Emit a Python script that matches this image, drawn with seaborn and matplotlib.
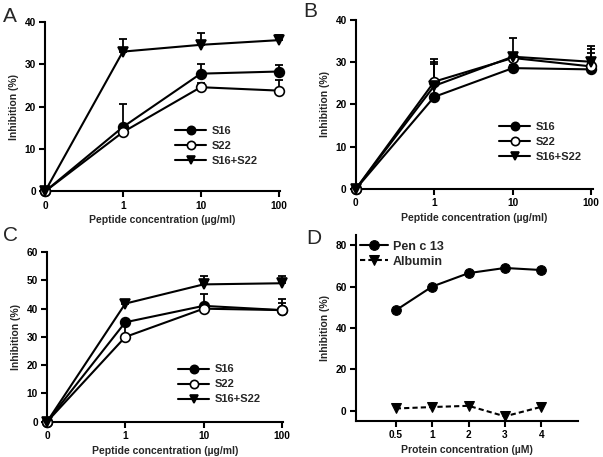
import numpy as np
import matplotlib
matplotlib.use("Agg")
import matplotlib.pyplot as plt
import seaborn as sns

# data
peptide_labels = ["0", "1", "10", "100"]
series_names = ["S16", "S22", "S16+S22"]

a_s16 = [0, 15.2, 27.8, 28.3]
a_s16_err = [0, 5.5, 2.2, 1.6]
a_s22 = [0, 14.0, 24.6, 23.8]
a_s22_err = [0, 0, 1.1, 2.6]
a_mix = [0, 33.0, 34.6, 35.7]
a_mix_err = [0, 3.0, 2.9, 1.3]

b_s16 = [0, 21.8, 28.6, 28.3]
b_s16_err = [0, 7.8, 0.8, 3.8]
b_s22 = [0, 25.4, 31.0, 29.0]
b_s22_err = [0, 5.3, 1.0, 4.1]
b_mix = [0, 24.4, 31.3, 30.1]
b_mix_err = [0, 5.6, 4.5, 3.7]

c_s16 = [0, 35.2, 41.0, 39.5]
c_s16_err = [0, 0, 4.3, 3.8]
c_s22 = [0, 30.0, 40.0, 39.5]
c_s22_err = [0, 5.0, 1.0, 2.5]
c_mix = [0, 41.8, 48.6, 49.0]
c_mix_err = [0, 1.0, 3.0, 2.5]

protein_labels = ["0.5", "1", "2", "3", "4"]
pen_c13 = [48.5, 60.0, 66.5, 69.0, 68.0]
albumin = [1.0, 1.7, 2.3, -2.8, 1.8]

sns.set_theme(style="ticks")
plt.rcParams["font.family"] = ["Liberation Sans", "DejaVu Sans"]
plt.rcParams["font.weight"] = "bold"

fig = plt.figure(figsize=(6.03, 4.57), dpi=100)

LW = 1.5
markers = ["o", "o", "v"]
faces = ["black", "white", "black"]


def style_axis(ax, xlabel, ylabel):
    sns.despine(ax=ax)
    for s in ["left", "bottom"]:
        ax.spines[s].set_linewidth(LW)
        ax.spines[s].set_color("black")
    ax.tick_params(direction="out", length=4, width=LW, labelsize=7.3,
                   colors="black", pad=2.5)
    for lab in ax.get_xticklabels() + ax.get_yticklabels():
        lab.set_fontweight("bold")
    ax.set_xlabel(xlabel, fontsize=7.5, fontweight="bold", labelpad=3.5)
    ax.set_ylabel(ylabel, fontsize=7.5, fontweight="bold", labelpad=4)


def peptide_panel(rect, vals, errs, ymax, step, leg_anchor):
    ax = fig.add_axes(rect)
    xs = np.arange(len(peptide_labels))
    for name, v, e, m, fc in zip(series_names, vals, errs, markers, faces):
        ax.errorbar(xs, v, yerr=[np.zeros(len(e)), e], fmt="none",
                    ecolor="black", elinewidth=1.3, capsize=3, capthick=1.3,
                    clip_on=False, zorder=2)
        sns.lineplot(x=xs, y=v, ax=ax, color="black", linewidth=LW,
                     marker=m, markersize=7, markerfacecolor=fc,
                     markeredgecolor="black", markeredgewidth=1.2,
                     label=name, clip_on=False, zorder=3)
    ax.set_xlim(0, 3.02)
    ax.set_ylim(0, ymax)
    ax.set_xticks(xs)
    ax.set_xticklabels(peptide_labels)
    ax.set_yticks(np.arange(0, ymax + 0.1, step))
    ax.legend(loc="center", bbox_to_anchor=leg_anchor, frameon=False,
              handlelength=2.8, handletextpad=0.5, markerscale=0.85,
              labelspacing=0.45, prop={"weight": "bold", "size": 8})
    style_axis(ax, "Peptide concentration (\u00b5g/ml)", "Inhibition (%)")
    return ax


peptide_panel([0.0746, 0.581, 0.390, 0.371],
              [a_s16, a_s22, a_mix], [a_s16_err, a_s22_err, a_mix_err],
              40, 10, (0.73, 0.27))
peptide_panel([0.590, 0.5864, 0.393, 0.370],
              [b_s16, b_s22, b_mix], [b_s16_err, b_s22_err, b_mix_err],
              40, 10, (0.78, 0.28))
peptide_panel([0.078, 0.0772, 0.392, 0.371],
              [c_s16, c_s22, c_mix], [c_s16_err, c_s22_err, c_mix_err],
              60, 10, (0.73, 0.22))

# panel D
axd = fig.add_axes([0.590, 0.079, 0.368, 0.407])
xd = np.arange(len(protein_labels))
sns.lineplot(x=xd, y=pen_c13, ax=axd, color="black", linewidth=LW,
             marker="o", markersize=7, markeredgecolor="black",
             label="Pen c 13", clip_on=False)
sns.lineplot(x=xd, y=albumin, ax=axd, color="black", linewidth=LW,
             dashes=(2.5, 1.5), marker="v", markersize=7,
             markeredgecolor="black", label="Albumin", clip_on=False)
axd.set_xlim(-1.1, 5.0)
axd.set_ylim(-5, 85)
axd.set_xticks(xd)
axd.set_xticklabels(protein_labels)
axd.set_yticks([0, 20, 40, 60, 80])
axd.legend(loc="upper left", bbox_to_anchor=(-0.03, 1.03), frameon=False,
           handlelength=2.2, handletextpad=0.4, labelspacing=0.25,
           prop={"weight": "bold", "size": 9})
style_axis(axd, "Protein concentration (\u00b5M)", "Inhibition (%)")

for letter, x, y in [("A", 0.005, 0.985), ("B", 0.503, 0.995),
                     ("C", 0.005, 0.505), ("D", 0.508, 0.50)]:
    fig.text(x, y, letter, fontsize=15, fontweight="normal", va="top",
             ha="left")

fig.savefig("out.png", dpi=100)
